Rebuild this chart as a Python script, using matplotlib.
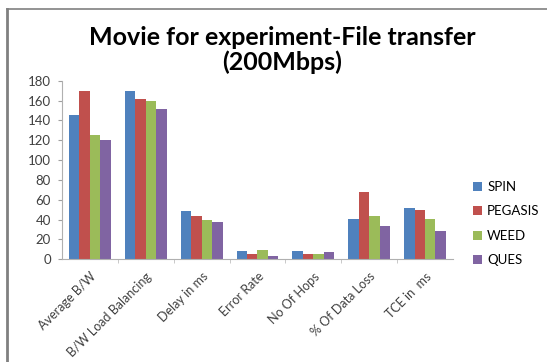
import numpy as np
import matplotlib
matplotlib.use("Agg")
import matplotlib.pyplot as plt
from matplotlib.lines import Line2D

# Datos
categories = ["Average B/W", "B/W Load Balancing", "Delay in ms", "Error Rate",
              "No Of Hops", "% Of Data Loss", "TCE in  ms"]
spin = [145, 170, 49, 8, 8, 41, 52]
pegasis = [170, 162, 44, 5.5, 5.5, 68, 50]
weed = [125, 160, 40, 9, 5.5, 44, 41]
ques = [120, 151, 37.5, 3, 7, 34, 28.5]
series_names = ["SPIN", "PEGASIS", "WEED", "QUES"]
colors = ["#4F81BD", "#C0504D", "#9BBB59", "#8064A2"]

plt.rcParams["font.family"] = ["Lato", "DejaVu Sans"]

fig = plt.figure(figsize=(5.47, 3.62), dpi=100)
ax = fig.add_axes([0.1133, 0.2837, 0.7147, 0.4933])

x = np.arange(len(categories))
bw = 0.75 / 4
for i, (vals, name) in enumerate(zip([spin, pegasis, weed, ques], series_names)):
    ax.bar(x - 0.375 + bw * (i + 0.5), vals, width=bw, color=colors[i],
           label=name, edgecolor="none")

ax.set_xlim(-0.5, len(categories) - 0.5)
ax.set_ylim(0, 180)
ax.set_yticks(range(0, 181, 20))
ax.tick_params(axis="y", length=3, color="#A0A0A0", labelsize=9.5, pad=5,
               labelcolor="#404040")
ax.set_xticks(x)
ax.set_xticklabels(categories, rotation=45, ha="right", rotation_mode="anchor",
                   fontsize=9, color="#404040")
ax.tick_params(axis="x", length=0, pad=8)
ax.set_xticks(np.arange(0.5, len(categories) - 0.5, 1), minor=True)
ax.tick_params(axis="x", which="minor", length=3, color="#C0C0C0")
for s in ["top", "right"]:
    ax.spines[s].set_visible(False)
ax.spines["left"].set_color("#B0B0B0")
ax.spines["bottom"].set_color("#B0B0B0")

fig.text(0.516, 0.862, "Movie for experiment-File transfer\n(200Mbps)",
         ha="center", va="center", fontsize=18, fontweight="bold",
         linespacing=1.1)

ax.legend(loc="center left", bbox_to_anchor=(1.02, 0.2), frameon=False,
          fontsize=9.5, handlelength=0.7, handleheight=0.7, handletextpad=0.4,
          labelspacing=0.95)

# marco del grafico (solo arriba e izquierda como en la imagen)
fig.add_artist(Line2D([0.013, 1.0], [0.975, 0.975], color="#808080", lw=1.2,
                      transform=fig.transFigure))
fig.add_artist(Line2D([0.013, 0.013], [0.0, 0.975], color="#808080", lw=2.0,
                      transform=fig.transFigure))

fig.savefig("out.png", dpi=100)
